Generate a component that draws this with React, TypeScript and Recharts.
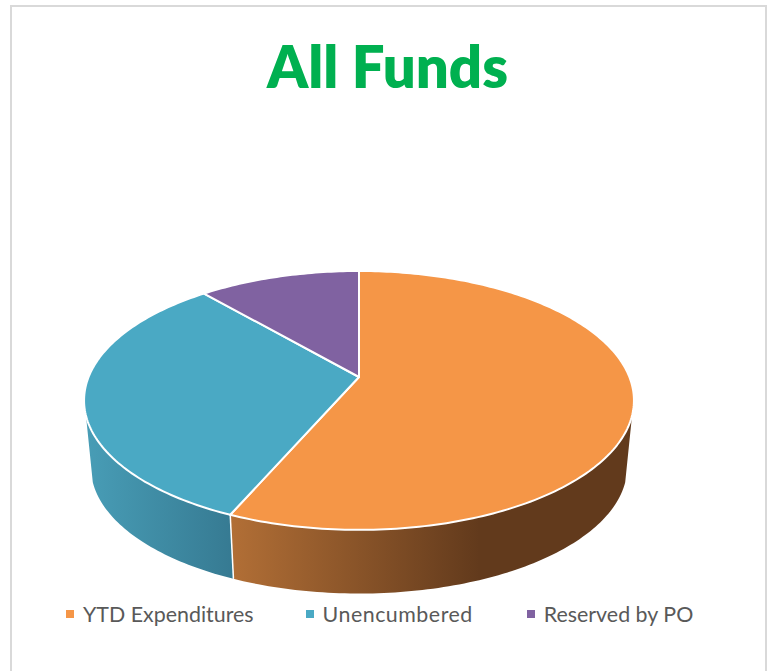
import { PieChart, Pie, Cell, Legend } from "recharts";

const categories = ["YTD Expenditures", "Unencumbered", "Reserved by PO"];
const values = [56.5, 32.2, 11.3];
const topColors = ["#F59647", "#4AA9C4", "#8062A1"];
const wallFills = ["url(#wallOrange)", "url(#wallTeal)", "none"];
const legendGaps = [52, 54, 0];
const legendSpacing = [0, 0.5, 0];

const tableData = categories.map((name, i) => ({ name, value: values[i] }));

// perspective of the tilted disc
const TILT = 0.181;
const SQUASH = 0.463;
const WALL_DROP = 67.5;
const WALL_SCALE = 0.975;
// front part of the rim, clockwise degrees from 12 o'clock
const WALL_FROM = 107;
const WALL_TO = 253;

function project(cx: number, cy: number, r: number, cw: number) {
  const t = (cw * Math.PI) / 180;
  const u = Math.sin(t);
  const v = Math.cos(t);
  const w = 1 + TILT * v;
  return { x: cx + (r * u) / w, y: cy - (r * SQUASH * v) / w };
}

function rim(cx: number, cy: number, r: number, from: number, to: number) {
  const pts: string[] = [];
  const n = Math.max(2, Math.ceil(Math.abs(to - from)));
  for (let i = 0; i <= n; i++) {
    const p = project(cx, cy, r, from + ((to - from) * i) / n);
    pts.push(`${p.x.toFixed(2)} ${p.y.toFixed(2)}`);
  }
  return pts;
}

const TopSlice = (props: any) => {
  const { cx, cy, outerRadius, startAngle, endAngle, fill } = props;
  const pts = rim(cx, cy, outerRadius, 90 - startAngle, 90 - endAngle);
  return (
    <path
      d={`M${cx} ${cy}L${pts.join("L")}Z`}
      fill={fill}
      stroke="#fff"
      strokeWidth={2}
      strokeLinejoin="round"
    />
  );
};

const WallSlice = (props: any) => {
  const { cx, cy, outerRadius, startAngle, endAngle, fill } = props;
  const from = Math.max(90 - startAngle, WALL_FROM);
  const to = Math.min(90 - endAngle, WALL_TO);
  if (to <= from) return null;
  const upper = rim(cx, cy, outerRadius, from, to);
  const lower = rim(cx, cy + WALL_DROP, outerRadius * WALL_SCALE, to, from);
  const a = project(cx, cy, outerRadius, from);
  const b = project(cx, cy + WALL_DROP, outerRadius * WALL_SCALE, from);
  return (
    <g>
      <path d={`M${upper.join("L")}L${lower.join("L")}Z`} fill={fill} />
      {from > WALL_FROM && (
        <line x1={a.x} y1={a.y} x2={b.x} y2={b.y} stroke="#fff" strokeWidth={1.5} />
      )}
    </g>
  );
};

const LegendRow = () => (
  <div
    style={{
      display: "flex",
      fontFamily: "Lato, sans-serif",
      fontSize: 21.4,
      lineHeight: "24px",
      color: "#595959",
    }}
  >
    {categories.map((name, i) => (
      <div
        key={name}
        style={{
          display: "flex",
          alignItems: "center",
          marginRight: legendGaps[i],
          letterSpacing: legendSpacing[i],
        }}
      >
        <span
          style={{
            width: 8,
            height: 8,
            background: topColors[i],
            marginRight: 9,
            display: "inline-block",
          }}
        />
        {name}
      </div>
    ))}
  </div>
);

export default function App() {
  return (
    <div style={{ position: "absolute", left: 0, top: 0, width: 768, height: 671, background: "#fff" }}>
      <div
        style={{
          position: "absolute",
          left: 10,
          top: 5,
          width: 753,
          height: 666,
          borderLeft: "2px solid #D9D9D9",
          borderTop: "2px solid #D9D9D9",
          borderRight: "2px solid #D9D9D9",
        }}
      />
      <div style={{ position: "absolute", left: 0, top: 0 }}>
        <PieChart width={768} height={671} margin={{ top: 0, right: 0, bottom: 0, left: 0 }}>
          <defs>
            <linearGradient id="wallOrange" x1="0" y1="0" x2="1" y2="0">
              <stop offset="0" stopColor="#B26F36" />
              <stop offset="0.62" stopColor="#623A1C" />
              <stop offset="1" stopColor="#623A1C" />
            </linearGradient>
            <linearGradient id="wallTeal" x1="0" y1="0" x2="1" y2="0">
              <stop offset="0" stopColor="#489DB6" />
              <stop offset="1" stopColor="#367A92" />
            </linearGradient>
          </defs>
          <text
            x={387.5}
            y={88}
            textAnchor="middle"
            fontFamily="Lato, sans-serif"
            fontWeight={800}
            fontSize={58}
            fill="#00B050"
          >
            All Funds
          </text>
          <Pie
            data={tableData}
            dataKey="value"
            nameKey="name"
            cx={359}
            cy={377}
            outerRadius={270.4}
            startAngle={90}
            endAngle={-270}
            legendType="none"
            isAnimationActive={false}
            shape={WallSlice}
          >
            {wallFills.map((c) => (
              <Cell key={c} fill={c} />
            ))}
          </Pie>
          <Pie
            data={tableData}
            dataKey="value"
            nameKey="name"
            cx={359}
            cy={377}
            outerRadius={270.4}
            startAngle={90}
            endAngle={-270}
            isAnimationActive={false}
            shape={TopSlice}
          >
            {topColors.map((c) => (
              <Cell key={c} fill={c} />
            ))}
          </Pie>
          <Legend
            content={<LegendRow />}
            wrapperStyle={{ position: "absolute", left: 66, top: 602, width: 690, bottom: "auto" }}
          />
        </PieChart>
      </div>
    </div>
  );
}
